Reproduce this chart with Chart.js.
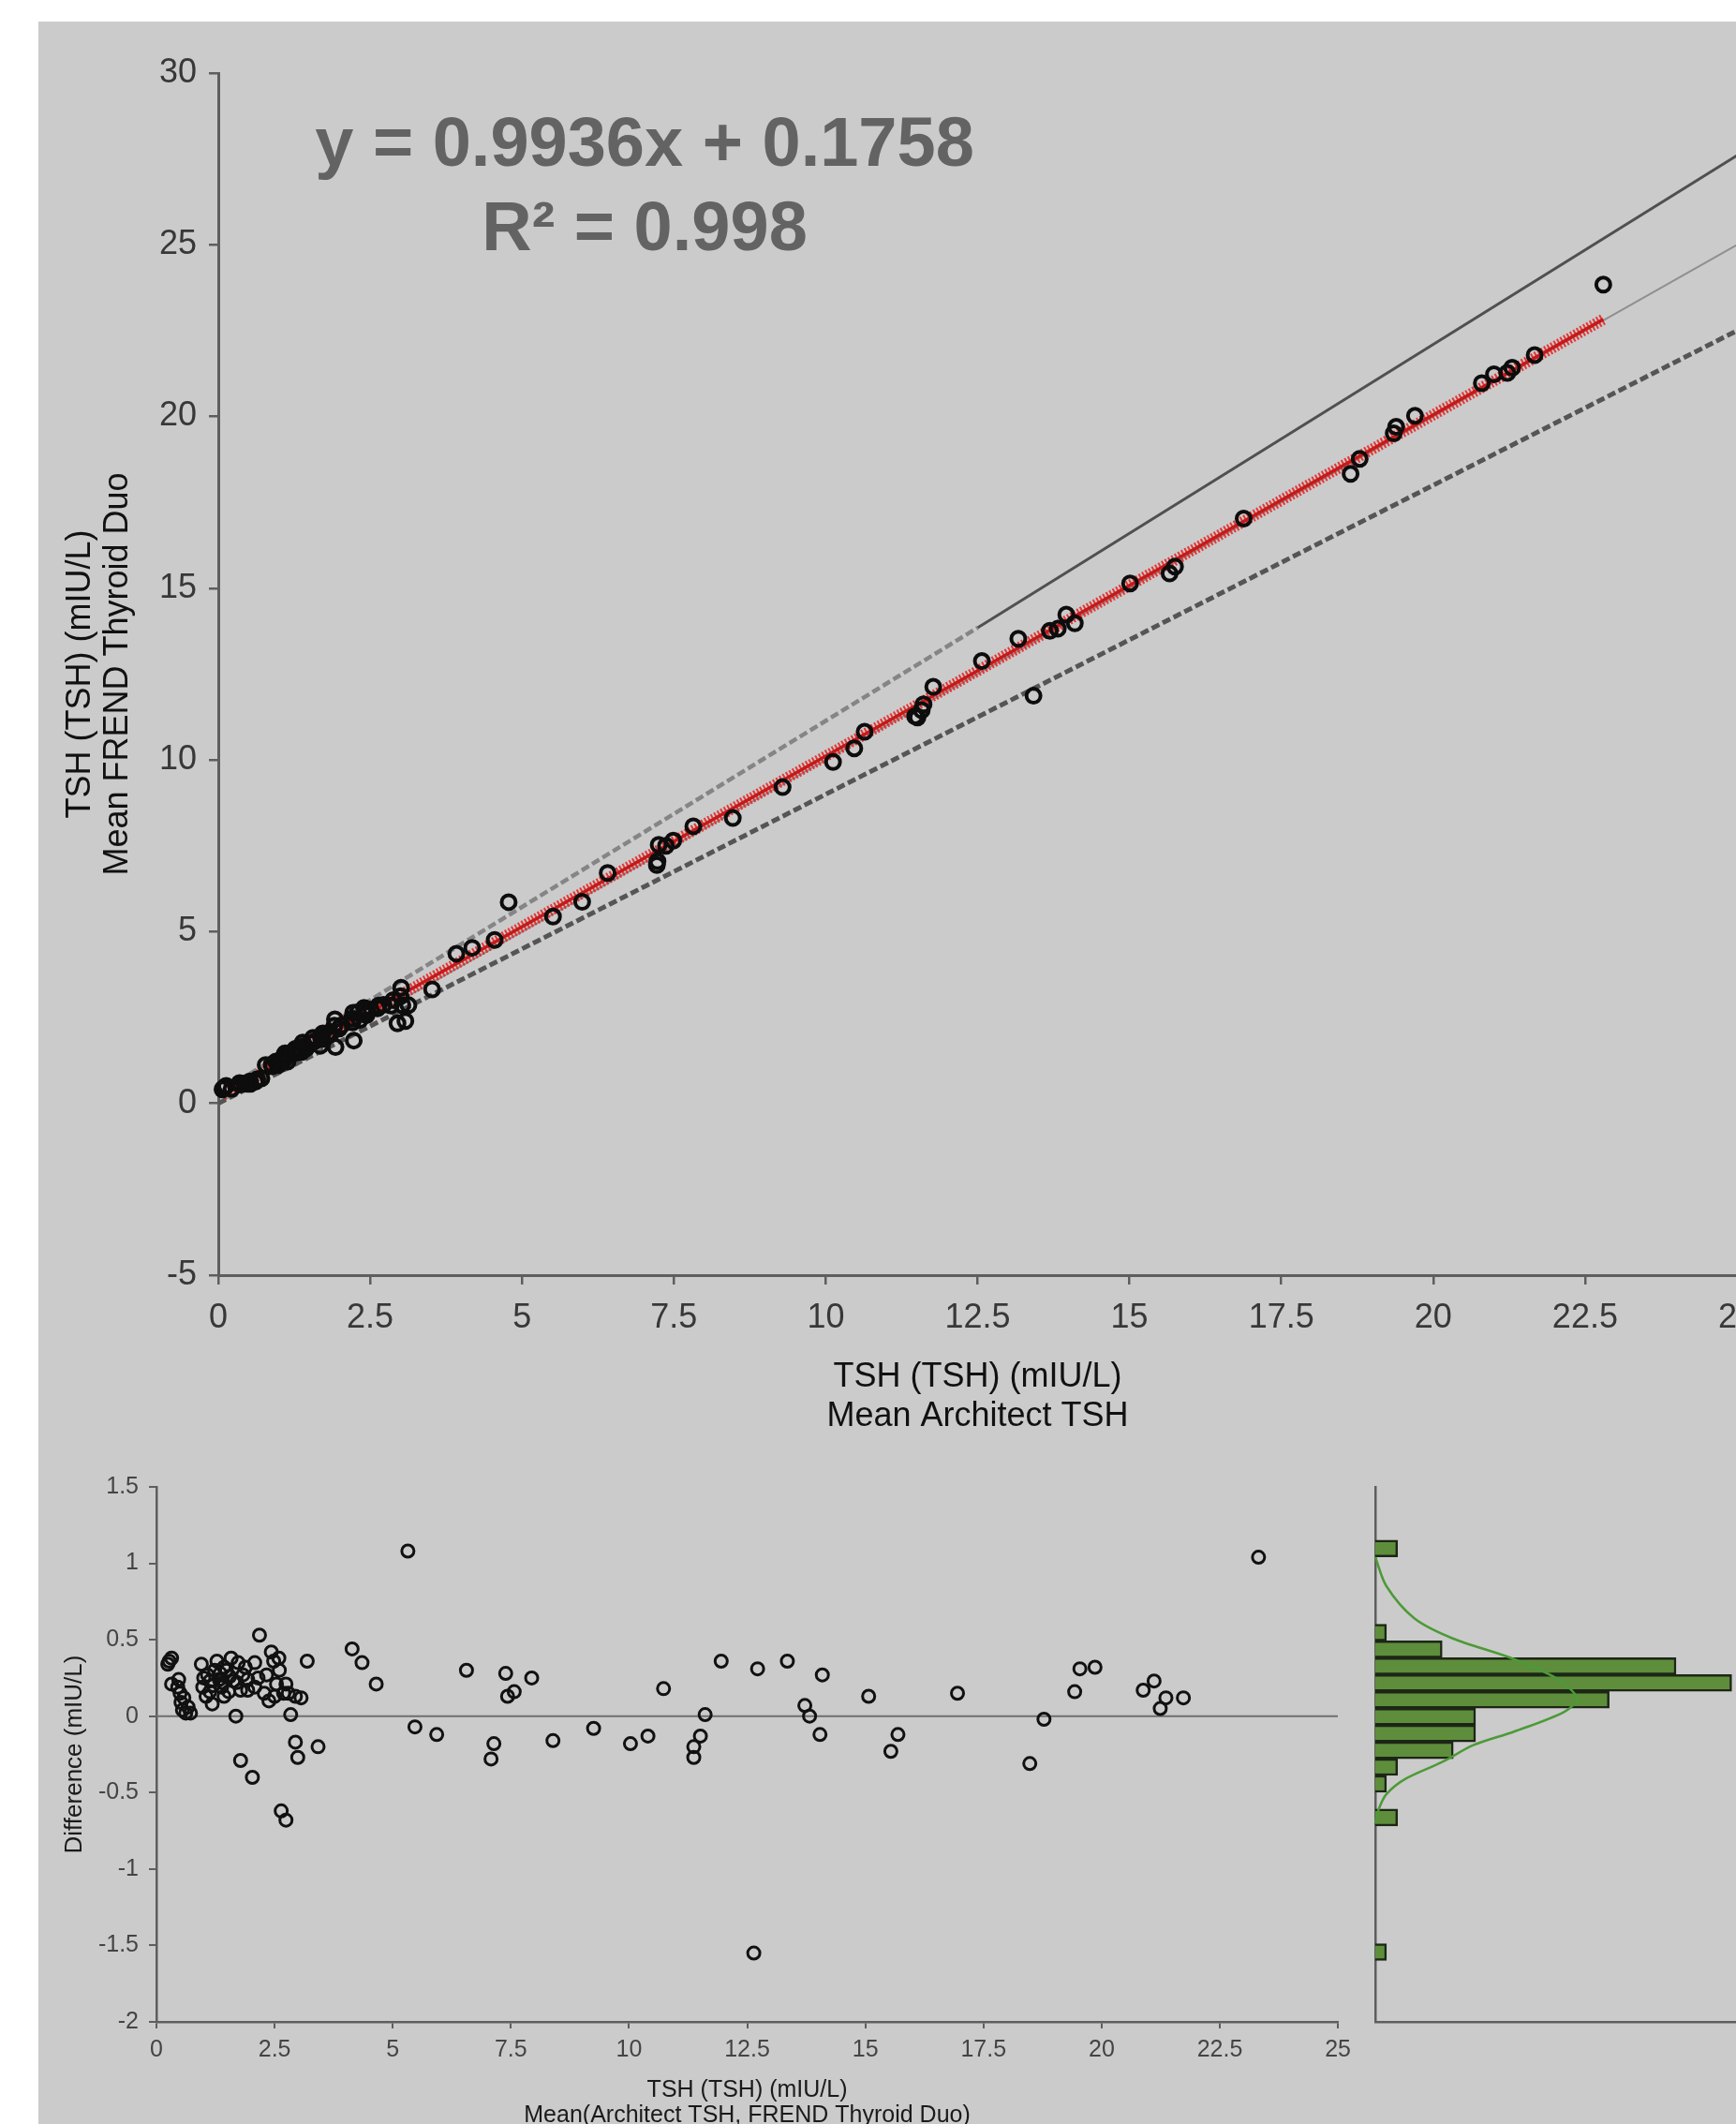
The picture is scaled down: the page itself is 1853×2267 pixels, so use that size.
<!DOCTYPE html>
<html>
<head>
<meta charset="utf-8">
<title>TSH method comparison</title>
<script src="https://cdn.jsdelivr.net/npm/chart.js@4.4.1/dist/chart.umd.min.js"></script>
<style>
  html, body { margin: 0; padding: 0; background: #fff; overflow: hidden; }
  body { width: 1853px; height: 2267px; position: relative; }
  .panel { position: absolute; left: 41px; top: 23px; width: 1812px; height: 2244px; background: #cbcbcb; }
  canvas { position: absolute; }
  #scatter { left: 0; top: 0; }
  #bland { left: 0; top: 1560px; }
  #hist { left: 1440px; top: 1560px; }
  .equation { position: absolute; left: 288px; top: 107px; width: 800px; text-align: center;
    font: bold 74px/90px 'Liberation Sans', Arial, sans-serif; color: #636363; }
</style>
</head>
<body>
<div class="panel"></div>
<canvas id="scatter" width="1900" height="1560"></canvas>
<canvas id="bland" width="1450" height="720"></canvas>
<canvas id="hist" width="450" height="720"></canvas>
<div class="equation">y = 0.9936x + 0.1758<br>R² = 0.998</div>
<script>
// scatter: Mean Architect TSH (x) vs Mean FREND Thyroid Duo (y)
const architect = [0.07,0.09,0.13,0.22,0.35,0.43,0.48,0.53,0.61,0.64,0.71,0.52,0.36,
  0.78,0.89,0.99,0.95,1.05,1.02,1.14,1.08,1.10,1.21,1.29,1.27,1.37,1.33,1.45,1.39,1.52,1.68,1.56,1.70,
  1.93,1.70,1.72,1.81,1.85,2.23,1.91,1.99,1.92,2.21,2.20,2.33,2.22,2.30,2.44,2.40,2.95,2.62,2.64,3.08,
  2.72,2.84,2.88,3.03,3.13,3.00,3.01,3.52,
  1.10,1.21,1.42,1.59,2.03,2.45,0.88,1.29,2.44,
  3.92,4.18,4.55,4.78,5.51,5.99,6.41,7.22,7.23,7.25,7.37,7.49,7.82,8.47,9.29,10.12,10.47,10.64,11.47,11.51,
  11.58,11.61,11.77,12.57,13.42,13.17,13.69,13.82,14.10,13.96,15.01,15.66,15.75,16.88,18.64,18.79,19.35,19.39,19.70,20.80,
  21.00,21.22,21.30,21.67,22.80];
const frend = [0.41,0.45,0.51,0.43,0.59,0.58,0.57,0.57,0.63,0.70,0.73,0.64,0.55,
  1.12,1.08,1.12,1.22,1.21,1.25,1.22,1.38,1.46,1.45,1.48,1.59,1.50,1.63,1.61,1.77,1.75,1.68,1.91,1.87,
  1.64,1.97,2.04,2.05,2.02,1.83,2.26,2.18,2.45,2.36,2.47,2.43,2.64,2.66,2.65,2.78,2.33,2.77,2.85,2.40,
  2.87,2.85,3.01,2.86,2.86,3.12,3.37,3.32,
  1.30,1.49,1.68,1.81,2.28,2.75,1.13,1.51,2.57,
  4.36,4.53,4.76,5.86,5.44,5.87,6.71,6.94,7.05,7.53,7.50,7.65,8.07,8.31,9.21,9.94,10.34,10.82,11.27,11.24,
  11.45,11.62,12.13,12.88,11.87,13.53,13.76,13.82,13.98,14.23,15.14,15.43,15.63,17.03,18.33,18.77,19.51,19.70,20.02,20.97,
  21.23,21.27,21.42,21.79,23.84];

// reference lines (data units)
const identityX = [0, 25], identityY = [0, 25];
const upperX = [12.5, 25], upperY = [13.85, 27.6];
const upperDashX = [0, 12.5], upperDashY = [0.3, 13.85];
const lowerX = [0, 25], lowerY = [0, 22.5];
const regX = [0.07, 22.8], regY = [0.245, 22.83];

// difference plot
const meanVals = [0.24,0.27,0.32,0.32,0.47,0.50,0.52,0.55,0.62,0.67,0.72,0.58,0.45,
  0.95,0.98,1.05,1.08,1.13,1.13,1.18,1.23,1.28,1.33,1.38,1.43,1.43,1.48,1.53,1.58,1.63,1.68,1.73,1.78,
  1.78,1.83,1.88,1.93,1.93,2.03,2.08,2.08,2.18,2.28,2.33,2.38,2.43,2.48,2.54,2.59,2.64,2.69,2.74,2.74,
  2.79,2.84,2.94,2.94,2.99,3.06,3.19,3.42,
  1.20,1.35,1.55,1.70,2.15,2.60,1.00,1.40,2.50,
  4.14,4.35,4.65,5.32,5.47,5.93,6.56,7.08,7.14,7.39,7.43,7.57,7.94,8.39,9.25,10.03,10.40,10.73,11.37,11.37,
  11.51,11.61,11.95,12.72,12.64,13.35,13.72,13.82,14.04,14.09,15.07,15.54,15.69,16.95,18.48,18.78,19.43,19.54,19.86,20.88,
  21.11,21.24,21.36,21.73,23.32];
const diffVals = [0.34,0.36,0.38,0.21,0.24,0.15,0.09,0.04,0.02,0.06,0.02,0.12,0.19,
  0.34,0.19,0.13,0.27,0.16,0.23,0.08,0.30,0.36,0.24,0.19,0.32,0.13,0.30,0.16,0.38,0.23,0.00,0.35,0.17,
  -0.29,0.27,0.32,0.24,0.17,-0.40,0.35,0.19,0.53,0.15,0.27,0.10,0.42,0.36,0.21,0.38,-0.62,0.15,0.21,-0.68,
  0.15,0.01,0.13,-0.17,-0.27,0.12,0.36,-0.20,
  0.20,0.28,0.26,0.22,0.25,0.30,0.25,0.22,0.13,
  0.44,0.35,0.21,1.08,-0.07,-0.12,0.30,-0.28,-0.18,0.28,0.13,0.16,0.25,-0.16,-0.08,-0.18,-0.13,0.18,-0.20,-0.27,
  -0.13,0.01,0.36,0.31,-1.55,0.36,0.07,0.00,-0.12,0.27,0.13,-0.23,-0.12,0.15,-0.31,-0.02,0.16,0.31,0.32,0.17,
  0.23,0.05,0.12,0.12,1.04];
const zeroX = [0, 25], zeroY = [0, 0];

// histogram of differences
const histCenters = [1.097, 0.547, 0.437, 0.327, 0.217, 0.107, -0.003, -0.113, -0.223, -0.333, -0.443, -0.663, -1.543];
const histCounts = [2, 1, 6, 27, 32, 21, 9, 9, 7, 2, 1, 2, 1];
const normDiff = [1.04, 0.85, 0.64, 0.51, 0.38, 0.25, 0.12, 0.03, -0.10, -0.19, -0.30, -0.41, -0.51, -0.61, -0.70];
const normCount = [0, 1.0, 3.5, 6.9, 12.2, 16.2, 18.1, 17.0, 12.5, 8.8, 6.0, 2.7, 1.0, 0.3, 0];

Chart.defaults.font.family = "'Liberation Sans', Arial, sans-serif";
Chart.defaults.animation = false;
Chart.defaults.plugins.legend.display = false;
Chart.defaults.plugins.tooltip.enabled = false;

const axisGray = '#5e5e5e';
const toPoints = (xs, ys) => xs.map((x, i) => ({ x, y: ys[i] }));
const plain = (v) => String(v);

function lineSet(xs, ys, color, width, dash, order) {
  return { data: toPoints(xs, ys), showLine: true, fill: false, borderColor: color, borderWidth: width,
    borderDash: dash, pointRadius: 0, order };
}

new Chart(document.getElementById('scatter'), {
  type: 'scatter',
  data: {
    datasets: [
      { data: toPoints(architect, frend), pointRadius: 7.5, pointBorderWidth: 4, pointBorderColor: '#0d0d0d',
        pointBackgroundColor: 'rgba(0,0,0,0)', clip: false, order: 0 },
      lineSet(regX, regY, '#c41a1a', 3.5, [], 1),
      lineSet(regX, regY, 'rgba(232,38,38,0.9)', 12, [2, 2], 2),
      lineSet(lowerX, lowerY, '#555', 5, [9, 4], 3),
      lineSet(upperDashX, upperDashY, '#858585', 4.5, [9, 4], 4),
      lineSet(upperX, upperY, '#505050', 3, [], 5),
      lineSet(identityX, identityY, '#8f8f8f', 2, [], 6),
    ],
  },
  options: {
    responsive: false,
    layout: { padding: { top: 78, right: 46, bottom: 0, left: 0 } },
    scales: {
      x: {
        type: 'linear', min: 0, max: 25,
        ticks: { stepSize: 2.5, color: '#383838', font: { size: 36 }, padding: 14, maxRotation: 0, autoSkip: false, callback: plain },
        grid: { drawOnChartArea: false, tickLength: 10, color: axisGray, lineWidth: 2.5 },
        border: { color: axisGray, width: 3 },
        title: { display: true, text: ['TSH (TSH) (mIU/L)', 'Mean Architect TSH'], color: '#111',
          font: { size: 36, lineHeight: 1.158 }, padding: { top: 0, bottom: 27 } },
        afterFit: (s) => { s.height = 199; },
      },
      y: {
        type: 'linear', min: -5, max: 30,
        ticks: { stepSize: 5, color: '#383838', font: { size: 36 }, padding: 13, callback: plain },
        grid: { drawOnChartArea: false, tickLength: 10, color: axisGray, lineWidth: 2.5 },
        border: { color: axisGray, width: 3 },
        title: { display: true, text: ['TSH (TSH) (mIU/L)', 'Mean FREND Thyroid Duo'], color: '#111',
          font: { size: 36, lineHeight: 1.12 }, padding: { top: 66, bottom: 0 } },
        afterFit: (s) => { s.width = 233; },
      },
    },
  },
});

new Chart(document.getElementById('bland'), {
  type: 'scatter',
  data: {
    datasets: [
      { data: toPoints(meanVals, diffVals), pointRadius: 6.5, pointBorderWidth: 3, pointBorderColor: '#111',
        pointBackgroundColor: 'rgba(0,0,0,0)', clip: false, order: 0 },
      lineSet(zeroX, zeroY, '#6e6e6e', 2, [], 1),
    ],
  },
  options: {
    responsive: false,
    layout: { padding: { top: 27, right: 20, bottom: 0, left: 0 } },
    scales: {
      x: {
        type: 'linear', min: 0, max: 25,
        ticks: { stepSize: 2.5, color: '#444', font: { size: 25 }, padding: 8, maxRotation: 0, autoSkip: false, callback: plain },
        grid: { drawOnChartArea: false, tickLength: 7, color: axisGray, lineWidth: 2 },
        border: { color: axisGray, width: 2.5 },
        title: { display: true, text: ['TSH (TSH) (mIU/L)', 'Mean(Architect TSH, FREND Thyroid Duo)'], color: '#1a1a1a',
          font: { size: 25, lineHeight: 1.08 }, padding: { top: 0, bottom: 8 } },
        afterFit: (s) => { s.height = 122; },
      },
      y: {
        type: 'linear', min: -2, max: 1.5,
        ticks: { stepSize: 0.5, color: '#444', font: { size: 25 }, padding: 11, callback: plain },
        grid: { drawOnChartArea: false, tickLength: 8, color: axisGray, lineWidth: 2 },
        border: { color: axisGray, width: 2.5 },
        title: { display: true, text: 'Difference (mIU/L)', color: '#1a1a1a', font: { size: 26 }, padding: { top: 64, bottom: 0 } },
        afterFit: (s) => { s.width = 167; },
      },
    },
  },
});

new Chart(document.getElementById('hist'), {
  type: 'bar',
  data: {
    datasets: [
      { type: 'scatter', data: toPoints(normCount, normDiff), showLine: true, tension: 0.3, pointRadius: 0,
        borderColor: '#4c9a37', borderWidth: 2.5, clip: false, order: 0 },
      { type: 'bar', indexAxis: 'y', data: toPoints(histCounts, histCenters), backgroundColor: '#5e8e3c',
        borderColor: '#1d2616', borderWidth: 2.5, barPercentage: 1, categoryPercentage: 1, order: 1 },
    ],
  },
  options: {
    responsive: false,
    indexAxis: 'y',
    layout: { padding: { top: 27, right: 0, bottom: 0, left: 0 } },
    scales: {
      x: {
        type: 'linear', min: 0, max: 35.5, offset: false,
        ticks: { display: false },
        grid: { display: false },
        border: { display: true, color: axisGray, width: 2.5 },
        afterFit: (s) => { s.height = 122; },
      },
      y: {
        type: 'linear', min: -2, max: 1.5, offset: false,
        ticks: { display: false },
        grid: { display: false },
        border: { display: true, color: axisGray, width: 2.5 },
        afterFit: (s) => { s.width = 28; },
      },
    },
  },
});
</script>
</body>
</html>
